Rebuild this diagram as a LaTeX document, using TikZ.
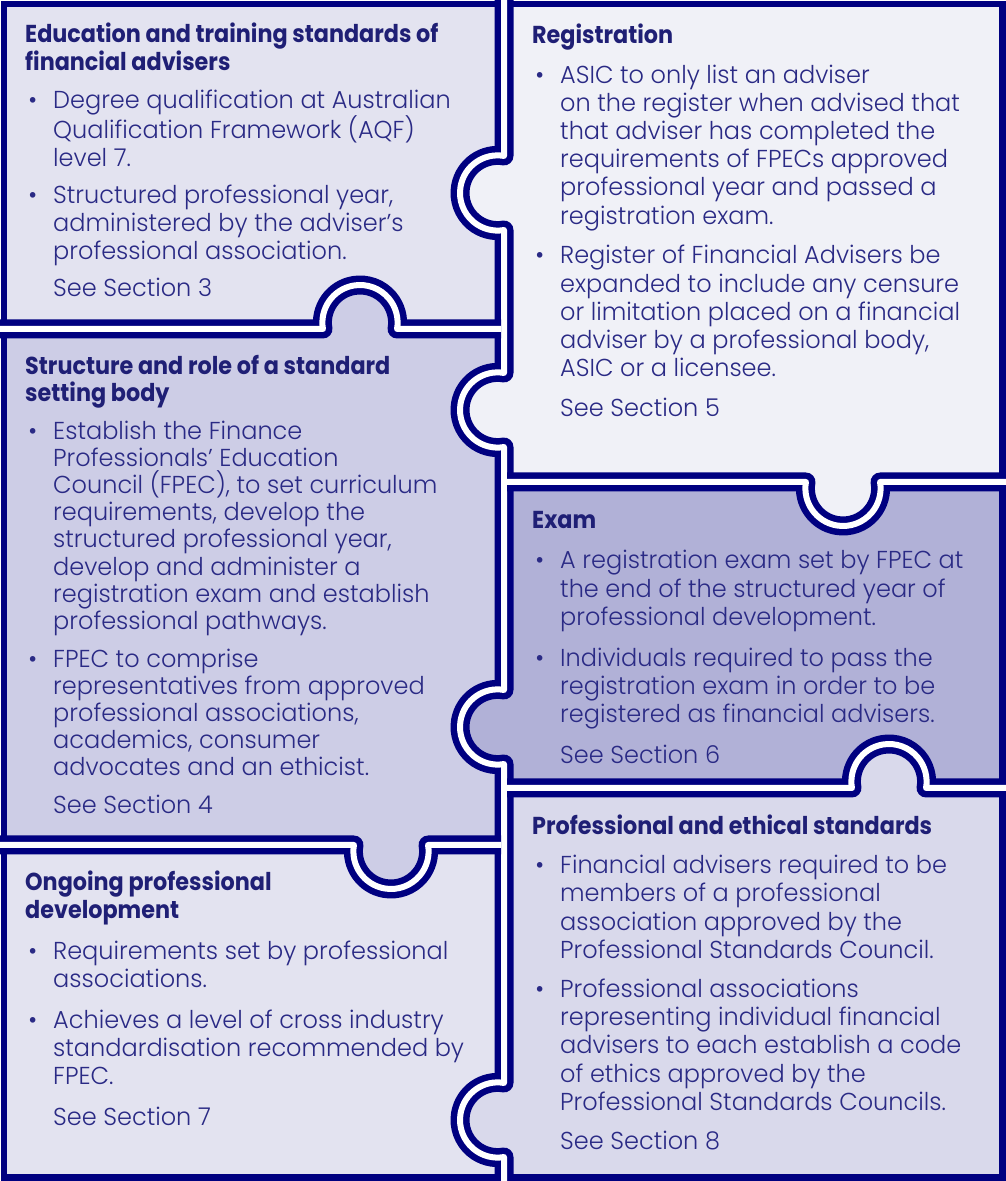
\documentclass[tikz,border=0pt]{standalone}
\usepackage{fontspec}
\setmainfont{Poppins}[UprightFont=* Light,BoldFont=* Bold,UprightFeatures={FakeStretch=0.98},BoldFeatures={FakeStretch=0.91}]
\usepackage{enumitem}
\usetikzlibrary{calc}
\definecolor{navyc}{HTML}{000080}
\definecolor{inkc}{HTML}{2A2A85}
\definecolor{headc}{HTML}{1F1F75}
\definecolor{educ}{HTML}{E3E3F0}
\definecolor{bodyc}{HTML}{CDCDE6}
\colorlet{cpdc}{educ}
\definecolor{regc}{HTML}{F0F1F7}
\definecolor{examc}{HTML}{B1B1D7}
\definecolor{ethicsc}{HTML}{D9D9EB}
\setlist[itemize]{label=\textbullet,leftmargin=28pt,labelsep=16pt,itemsep=11pt,parsep=0pt,topsep=11pt,partopsep=0pt}
\newcommand{\tabL}[2]{% knob bulging to the left of travel
-- ($(#1)+(#2:6.4pt)+(#2+99.8:37.6pt)$) arc[start angle=#2+99.8,end angle=#2-99.8,radius=37.6pt]}
\newcommand{\tabR}[2]{% knob bulging to the right of travel
-- ($(#1)+(#2:6.4pt)+(#2-99.8:37.6pt)$) arc[start angle=#2-99.8,end angle=#2+99.8,radius=37.6pt]}
\newcommand{\piecetext}[4][28]{% heading, bullets and section of one piece
\begin{minipage}[t]{465pt}\raggedright\setlength{\parskip}{0pt}%
\fontsize{24.5}{#1}\selectfont
{\leavevmode\bfseries\color{headc}#2\par}#3
\hspace*{28pt}See Section #4
\end{minipage}}
\tikzstyle{outerframe} = [draw=navyc, line width=6.5pt]
\tikzstyle{seam} = [
    draw=navyc,
    line width=6.5pt,
    double=white,
    double distance=6pt,
    line join=round
    ]
\tikzstyle{piecetextbox} = [anchor=base west, inner sep=0pt, text=inkc]

\begin{document}
\begin{tikzpicture}[x=1pt,y=1pt]
\useasboundingbox (0,0) rectangle (1006,1181);
% the six pieces
\fill[educ] (4,1177) -- (504,1177) \tabR{504,988}{180} -- (504,852) \tabR{360,852}{90} -- (4,852) -- cycle;
\fill[bodyc] (4,852) \tabL{360,852}{90} -- (504,852) \tabR{504,771}{180} \tabR{504,454}{180} -- (504,336) \tabL{391,336}{270} -- (4,336) -- cycle;
\fill[cpdc] (4,336) \tabR{391,336}{270} -- (504,336) \tabR{504,61}{180} -- (504,3.5) -- (4,3.5) -- cycle;
\fill[regc] (504,1177) -- (1002.5,1177) -- (1002.5,699) \tabL{843,699}{270} -- (504,699) \tabL{504,771}{180} \tabL{504,988}{180} -- cycle;
\fill[examc] (504,699) \tabR{843,699}{270} -- (1002.5,699) -- (1002.5,393) \tabR{889,393}{90} -- (504,393) \tabL{504,454}{180} -- cycle;
\fill[ethicsc] (504,393) \tabL{889,393}{90} -- (1002.5,393) -- (1002.5,3.5) -- (504,3.5) \tabL{504,61}{180} -- cycle;
\draw[outerframe] (4,3.5) rectangle (1002.5,1177);
% seams between pieces
\draw[seam] (504,1181) \tabR{504,988}{180} \tabR{504,771}{180} \tabR{504,454}{180} \tabR{504,61}{180} -- (504,0);
\draw[seam] (0,852) \tabL{360,852}{90} -- (501,852);
\draw[seam] (0,336) \tabR{391,336}{270} -- (501,336);
\draw[seam] (507,699) \tabR{843,699}{270} -- (1006,699);
\draw[seam] (507,393) \tabL{889,393}{90} -- (1006,393);

\node[piecetextbox] (edu) at (25,1138) {\piecetext[27.6]{Education and training standards of\\financial advisers}{%
\begin{itemize}[itemsep=10pt,topsep=10pt]
\item Degree qualification at Australian\\Qualification Framework (AQF)\\level 7.
\item Structured professional year,\\administered by the adviser's\\professional association.
\end{itemize}}{3}};

\node[piecetextbox] (body) at (25,806.5) {\piecetext[27.2]{Structure and role of a standard\\setting body}{%
\begin{itemize}[itemsep=10.3pt,topsep=10.3pt]
\item Establish the Finance\\Professionals' Education\\Council (FPEC), to set curriculum\\requirements, develop the\\structured professional year,\\develop and administer a\\registration exam and establish\\professional pathways.
\item FPEC to comprise\\representatives from approved\\professional associations,\\academics, consumer\\advocates and an ethicist.
\end{itemize}}{4}};

\node[piecetextbox] (cpd) at (25,290.5) {\piecetext[28.4]{Ongoing professional\\development}{%
\begin{itemize}[itemsep=12pt,topsep=12pt]
\item Requirements set by professional\\associations.
\item Achieves a level of cross industry\\standardisation recommended by\\FPEC.
\end{itemize}}{7}};

\node[piecetextbox] (reg) at (532,1137.5) {\piecetext[28.2]{Registration}{%
\begin{itemize}[itemsep=11.5pt,topsep=11.5pt]
\item ASIC to only list an adviser\\on the register when advised that\\that adviser has completed the\\requirements of FPECs approved\\professional year and passed a\\registration exam.
\item Register of Financial Advisers be\\expanded to include any censure\\or limitation placed on a financial\\adviser by a professional body,\\ASIC or a licensee.
\end{itemize}}{5}};

\node[piecetextbox] (exam) at (532,652.5) {\piecetext[28.4]{Exam}{%
\begin{itemize}[itemsep=12pt,topsep=12pt]
\item A registration exam set by FPEC at\\the end of the structured year of\\professional development.
\item Individuals required to pass the\\registration exam in order to be\\registered as financial advisers.
\end{itemize}}{6}};

\node[piecetextbox] (ethics) at (532,346.5) {\piecetext[28.2]{Professional and ethical standards}{%
\begin{itemize}
\item Financial advisers required to be\\members of a professional\\association approved by the\\Professional Standards Council.
\item Professional associations\\representing individual financial\\advisers to each establish a code\\of ethics approved by the\\Professional Standards Councils.
\end{itemize}}{8}};
\end{tikzpicture}
\end{document}
